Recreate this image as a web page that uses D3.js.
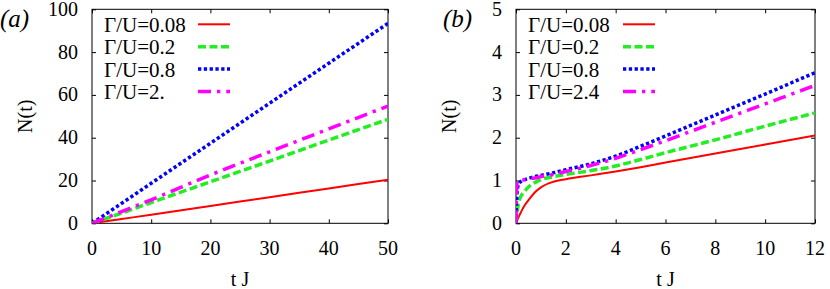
<!DOCTYPE html>
<html>
<head>
<meta charset="utf-8">
<script src="https://cdn.jsdelivr.net/npm/d3@7"></script>
<style>
  body { margin: 0; background: #fff; }
</style>
</head>
<body>
<div id="chart"></div>
<script>
// panel (a)
const timesA = [0, 2, 5, 10, 20, 30, 40, 50];
const redA = [0, 0.8, 2.0, 4.0, 8.1, 12.2, 16.3, 20.4];
const greenA = [0, 1.9, 4.8, 9.7, 19.4, 29.1, 38.9, 48.6];
const blueA = [0, 3.7, 9.3, 18.7, 37.4, 56.1, 74.8, 93.4];
const magentaA = [0, 2.2, 5.5, 11.0, 22.6, 33.4, 44.1, 54.8];
const labelsA = ["Γ/U=0.08", "Γ/U=0.2", "Γ/U=0.8", "Γ/U=2."];
const xTicksA = [0, 10, 20, 30, 40, 50];
const yTicksA = [0, 20, 40, 60, 80, 100];

// panel (b)
const timesB = [0, 0.02, 0.05, 0.1, 0.2, 0.35, 0.5, 0.75, 1, 1.5, 2, 3, 4, 5, 6, 8, 10, 12];
const redB = [0, 0.03, 0.07, 0.14, 0.26, 0.42, 0.54, 0.72, 0.84, 0.97, 1.03, 1.12, 1.21, 1.31, 1.42, 1.63, 1.84, 2.05];
const greenB = [0, 0.12, 0.28, 0.47, 0.63, 0.75, 0.85, 0.95, 1.02, 1.09, 1.14, 1.23, 1.34, 1.49, 1.65, 1.95, 2.27, 2.58];
const blueB = [0, 0.45, 0.75, 0.92, 0.98, 1.02, 1.05, 1.09, 1.12, 1.18, 1.25, 1.39, 1.57, 1.80, 2.04, 2.53, 3.02, 3.52];
const magentaB = [0, 0.7, 0.98, 1.0, 1.01, 1.02, 1.04, 1.06, 1.09, 1.14, 1.21, 1.35, 1.52, 1.72, 1.93, 2.36, 2.79, 3.22];
const labelsB = ["Γ/U=0.08", "Γ/U=0.2", "Γ/U=0.8", "Γ/U=2.4"];
const xTicksB = [0, 2, 4, 6, 8, 10, 12];
const yTicksB = [0, 1, 2, 3, 4, 5];

const styles = [
    { color: "#ff0000", width: 2, dash: null },
    { color: "#22ee22", width: 3.5, dash: "8,3.5" },
    { color: "#0000ff", width: 3.5, dash: "3.3,2.5" },
    { color: "#ff00ff", width: 3.5, dash: "13,6,3.3,6" }
];

const svg = d3.select("#chart")
              .append("svg")
              .attr("width", 830)
              .attr("height", 289);

// every label goes straight onto the svg root
function label(x, y, txt, size, opts = {}) {
    const t = svg.append("text")
                 .attr("x", x)
                 .attr("y", y)
                 .style("font-family", '"Liberation Serif", monospace')
                 .style("font-size", size + "px")
                 .style("fill", "#000")
                 .style("text-anchor", opts.anchor || "start");
    if (opts.italic) t.style("font-style", "italic");
    if (opts.rotate) t.attr("transform", `rotate(-90,${x},${y})`);
    t.text(txt);
    return t;
}

function drawPanel(cfg) {
    const x = d3.scaleLinear().domain(cfg.xDomain).range([cfg.left, cfg.right]);
    const y = d3.scaleLinear().domain(cfg.yDomain).range([cfg.bottom, cfg.top]);
    const g = svg.append("g");

    g.append("clipPath").attr("id", "clip" + cfg.id)
     .append("rect")
     .attr("x", cfg.left).attr("y", cfg.top)
     .attr("width", cfg.right - cfg.left).attr("height", cfg.bottom - cfg.top);

    // tick marks pointing inward on all four sides
    g.append("g").attr("transform", `translate(0,${cfg.bottom})`)
     .call(d3.axisBottom(x).tickValues(cfg.xTicks).tickFormat("").tickSizeInner(-4).tickSizeOuter(0));
    g.append("g").attr("transform", `translate(${cfg.left},0)`)
     .call(d3.axisLeft(y).tickValues(cfg.yTicks).tickFormat("").tickSizeInner(-4).tickSizeOuter(0));
    g.append("g").attr("transform", `translate(0,${cfg.top})`)
     .call(d3.axisTop(x).tickValues(cfg.xTicks).tickFormat("").tickSizeInner(-4).tickSizeOuter(0));
    g.append("g").attr("transform", `translate(${cfg.right},0)`)
     .call(d3.axisRight(y).tickValues(cfg.yTicks).tickFormat("").tickSizeInner(-4).tickSizeOuter(0));
    g.selectAll(".domain").remove();
    g.selectAll(".tick text").remove();
    g.selectAll(".tick line").attr("stroke", "#000");

    g.append("rect")
     .attr("x", cfg.left).attr("y", cfg.top)
     .attr("width", cfg.right - cfg.left).attr("height", cfg.bottom - cfg.top)
     .attr("fill", "none").attr("stroke", "#000").attr("stroke-width", 1);

    // tick labels from the scales
    cfg.xTicks.forEach(v => label(x(v), cfg.bottom + 32, String(v), 20, { anchor: "middle" }));
    cfg.yTicks.forEach(v => label(cfg.left - 14, y(v) + 6.5, String(v), 20, { anchor: "end" }));

    // curves
    const line = d3.line().curve(d3.curveMonotoneX).x(d => x(d[0])).y(d => y(d[1]));
    cfg.series.forEach((vals, i) => {
        const pts = cfg.times.map((t, k) => [t, vals[k]]);
        g.append("path")
         .datum(pts)
         .attr("d", line)
         .attr("clip-path", `url(#clip${cfg.id})`)
         .attr("fill", "none")
         .attr("stroke", styles[i].color)
         .attr("stroke-width", styles[i].width)
         .attr("stroke-dasharray", styles[i].dash);
    });

    // legend
    cfg.labels.forEach((lab, i) => {
        const rowY = cfg.top + 15 + i * 22.4;
        label(cfg.legendX, rowY + 7.5, lab, 21);
        g.append("line")
         .attr("x1", cfg.sampleX).attr("x2", cfg.sampleX + 32)
         .attr("y1", rowY).attr("y2", rowY)
         .attr("stroke", styles[i].color)
         .attr("stroke-width", styles[i].width)
         .attr("stroke-dasharray", styles[i].dash);
    });

    // axis titles and panel tag
    label(cfg.left - 60, (cfg.top + cfg.bottom) / 2, "N(t)", 20, { anchor: "middle", rotate: true });
    label((cfg.left + cfg.right) / 2, 286, "t J", 20, { anchor: "middle" });
    label(cfg.tagX, 27, cfg.tag, 25, { italic: true });
}

drawPanel({
    id: "a", tag: "(a)", tagX: 0,
    left: 92, right: 388, top: 9.3, bottom: 223.3,
    xDomain: [0, 50], yDomain: [0, 100],
    xTicks: xTicksA, yTicks: yTicksA,
    times: timesA, series: [redA, greenA, blueA, magentaA],
    labels: labelsA, legendX: 104, sampleX: 198
});

drawPanel({
    id: "b", tag: "(b)", tagX: 443,
    left: 516, right: 815, top: 9.3, bottom: 223.3,
    xDomain: [0, 12], yDomain: [0, 5],
    xTicks: xTicksB, yTicks: yTicksB,
    times: timesB, series: [redB, greenB, blueB, magentaB],
    labels: labelsB, legendX: 528, sampleX: 623
});
</script>
</body>
</html>
